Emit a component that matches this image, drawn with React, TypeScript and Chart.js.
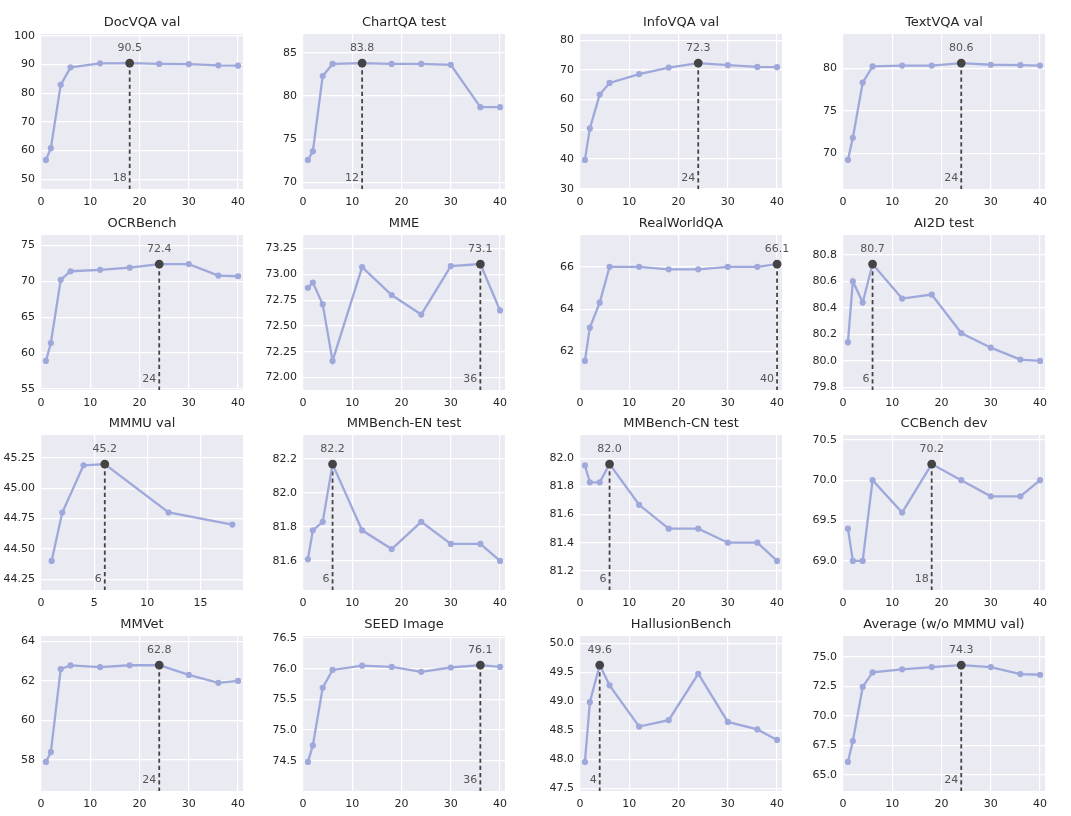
import React, { useEffect, useRef } from "react";
import { Chart, registerables } from "chart.js";

Chart.register(...registerables);

// ---------- data ----------
const xSteps = [1, 2, 4, 6, 12, 18, 24, 30, 36, 40];
const xStepsMMMU = [1, 2, 4, 6, 12, 18];
const xTicksMain = ["0", "10", "20", "30", "40"];
const xTicksMMMU = ["0", "5", "10", "15"];

const titles = [
  "DocVQA val", "ChartQA test", "InfoVQA val", "TextVQA val",
  "OCRBench", "MME", "RealWorldQA", "AI2D test",
  "MMMU val", "MMBench-EN test", "MMBench-CN test", "CCBench dev",
  "MMVet", "SEED Image", "HallusionBench", "Average (w/o MMMU val)",
];

const docvqa = [56.7, 60.8, 82.9, 89.0, 90.4, 90.5, 90.2, 90.1, 89.7, 89.6];
const chartqa = [72.6, 73.6, 82.3, 83.7, 83.8, 83.7, 83.7, 83.6, 78.7, 78.7];
const infovqa = [39.7, 50.3, 61.7, 65.6, 68.6, 70.8, 72.3, 71.6, 71.0, 70.9];
const textvqa = [69.2, 71.8, 78.3, 80.2, 80.3, 80.3, 80.6, 80.4, 80.35, 80.3];
const ocrbench = [58.9, 61.4, 70.2, 71.4, 71.6, 71.9, 72.4, 72.4, 70.8, 70.7];
const mme = [72.87, 72.92, 72.71, 72.16, 73.07, 72.8, 72.61, 73.08, 73.1, 72.65];
const realworldqa = [61.56, 63.13, 64.31, 66.0, 66.0, 65.88, 65.88, 66.0, 66.0, 66.13];
const ai2d = [80.14, 80.6, 80.44, 80.73, 80.47, 80.5, 80.21, 80.1, 80.01, 80.0];
const mmmu = [44.4, 44.8, 45.19, 45.2, 44.8, 44.7];
const mmbenchEN = [81.61, 81.78, 81.83, 82.17, 81.78, 81.67, 81.83, 81.7, 81.7, 81.6];
const mmbenchCN = [81.95, 81.83, 81.83, 81.96, 81.67, 81.5, 81.5, 81.4, 81.4, 81.27];
const ccbench = [69.4, 69.0, 69.0, 70.0, 69.6, 70.2, 70.0, 69.8, 69.8, 70.0];
const mmvet = [57.9, 58.4, 62.6, 62.78, 62.7, 62.79, 62.8, 62.3, 61.9, 62.0];
const seedImage = [74.48, 74.75, 75.69, 75.98, 76.05, 76.03, 75.95, 76.02, 76.06, 76.03];
const hallusion = [47.96, 48.99, 49.63, 49.28, 48.57, 48.68, 49.48, 48.65, 48.52, 48.34];
const average = [66.1, 67.87, 72.44, 73.67, 73.93, 74.12, 74.29, 74.12, 73.53, 73.47];

const docvqaTicks = ["50", "60", "70", "80", "90", "100"];
const chartqaTicks = ["70", "75", "80", "85"];
const infovqaTicks = ["30", "40", "50", "60", "70", "80"];
const textvqaTicks = ["70", "75", "80"];
const ocrbenchTicks = ["55", "60", "65", "70", "75"];
const mmeTicks = ["72.00", "72.25", "72.50", "72.75", "73.00", "73.25"];
const realworldqaTicks = ["62", "64", "66"];
const ai2dTicks = ["79.8", "80.0", "80.2", "80.4", "80.6", "80.8"];
const mmmuTicks = ["44.25", "44.50", "44.75", "45.00", "45.25"];
const mmbenchENTicks = ["81.6", "81.8", "82.0", "82.2"];
const mmbenchCNTicks = ["81.2", "81.4", "81.6", "81.8", "82.0"];
const ccbenchTicks = ["69.0", "69.5", "70.0", "70.5"];
const mmvetTicks = ["58", "60", "62", "64"];
const seedTicks = ["74.5", "75.0", "75.5", "76.0", "76.5"];
const hallusionTicks = ["47.5", "48.0", "48.5", "49.0", "49.5", "50.0"];
const averageTicks = ["65.0", "67.5", "70.0", "72.5", "75.0"];

const seriesList = [
  docvqa, chartqa, infovqa, textvqa,
  ocrbench, mme, realworldqa, ai2d,
  mmmu, mmbenchEN, mmbenchCN, ccbench,
  mmvet, seedImage, hallusion, average,
];
const yTickList = [
  docvqaTicks, chartqaTicks, infovqaTicks, textvqaTicks,
  ocrbenchTicks, mmeTicks, realworldqaTicks, ai2dTicks,
  mmmuTicks, mmbenchENTicks, mmbenchCNTicks, ccbenchTicks,
  mmvetTicks, seedTicks, hallusionTicks, averageTicks,
];

// ---------- styling / layout ----------
const FONT = "'DejaVu Sans', 'Noto Sans', sans-serif";
const TEXT = "#262626";
const ANNO = "#555555";
const LINE = "#9fa8da";
const HIGHLIGHT = "#444444";
const BG = "#eaeaf2";

const COL_LEFT = [41, 303, 580, 843];
const COL_W = 202;
const ROW_TOP = [34, 235, 435, 636];
const ROW_H = 155;
const Y_AXIS_W = 50;
const TITLE_H = 30;
const X_AXIS_H = 24;
const PAD_RIGHT = 12;

const bgPlugin = {
  id: "bgFill",
  beforeDraw(chart: any) {
    const { ctx, chartArea: a } = chart;
    ctx.save();
    ctx.fillStyle = BG;
    ctx.fillRect(a.left, a.top, a.right - a.left, a.bottom - a.top);
    ctx.restore();
  },
};

const highlightPlugin = {
  id: "highlight",
  beforeDatasetsDraw(chart: any, _args: any, opts: any) {
    const pt = chart.getDatasetMeta(0).data[opts.index];
    if (!pt) return;
    const { ctx, chartArea: a } = chart;
    ctx.save();
    ctx.setLineDash([4.2, 3]);
    ctx.strokeStyle = HIGHLIGHT;
    ctx.lineWidth = 1.8;
    ctx.beginPath();
    ctx.moveTo(pt.x, pt.y);
    ctx.lineTo(pt.x, a.bottom);
    ctx.stroke();
    ctx.restore();
  },
  afterDatasetsDraw(chart: any, _args: any, opts: any) {
    const pt = chart.getDatasetMeta(0).data[opts.index];
    if (!pt) return;
    const { ctx, chartArea: a } = chart;
    ctx.save();
    ctx.font = `11px ${FONT}`;
    ctx.fillStyle = ANNO;
    ctx.textBaseline = "middle";
    ctx.textAlign = "center";
    ctx.fillText(opts.valueLabel, pt.x, pt.y - 15);
    ctx.textAlign = "right";
    ctx.fillText(opts.xLabel, pt.x - 3, a.bottom - 10.5);
    ctx.restore();
  },
};

function Panel({ idx }: { idx: number }) {
  const ref = useRef<HTMLCanvasElement | null>(null);
  const row = Math.floor(idx / 4);
  const col = idx % 4;
  const left = COL_LEFT[col] - Y_AXIS_W;
  const top = ROW_TOP[row] - TITLE_H;
  const width = COL_W + Y_AXIS_W + PAD_RIGHT;
  const height = ROW_H + TITLE_H + X_AXIS_H;

  useEffect(() => {
    if (!ref.current) return;
    const ys = seriesList[idx];
    const xs = idx === 8 ? xStepsMMMU : xSteps;
    const xLabels = idx === 8 ? xTicksMMMU : xTicksMain;
    const yLabels = yTickList[idx];

    let best = 0;
    ys.forEach((v, i) => {
      if (v > ys[best]) best = i;
    });
    const ymin = Math.min(...ys);
    const ymax = Math.max(...ys);
    const span = ymax - ymin;

    const tickFont = { family: FONT, size: 11 };
    const chart = new Chart(ref.current, {
      type: "line",
      data: {
        datasets: [
          {
            data: xs.map((x, i) => ({ x, y: ys[i] })),
            borderColor: LINE,
            borderWidth: 2.3,
            tension: 0,
            fill: false,
            pointRadius: ys.map((_, i) => (i === best ? 4.4 : 3.1)),
            pointHoverRadius: ys.map((_, i) => (i === best ? 4.4 : 3.1)),
            pointBackgroundColor: ys.map((_, i) => (i === best ? HIGHLIGHT : LINE)),
            pointBorderWidth: 0,
            clip: false as any,
          },
        ],
      },
      options: {
        animation: false,
        responsive: false,
        devicePixelRatio: 1,
        events: [],
        layout: {
          padding: { left: 0, right: PAD_RIGHT, top: 0, bottom: 0 },
          autoPadding: false,
        },
        plugins: {
          legend: { display: false },
          tooltip: { enabled: false },
          title: {
            display: true,
            text: titles[idx],
            fullSize: false,
            color: TEXT,
            font: { family: FONT, size: 13, weight: "normal", lineHeight: 1.2 },
            padding: { top: 10.7, bottom: 3.7 },
          },
          highlight: {
            index: best,
            valueLabel: ys[best].toFixed(1),
            xLabel: String(xs[best]),
          },
        } as any,
        scales: {
          x: {
            type: "linear",
            min: xs[0] - 1,
            max: xs[xs.length - 1] + 1,
            grid: { color: "#ffffff", lineWidth: 1.2, drawTicks: false },
            border: { display: false },
            ticks: {
              padding: 7,
              autoSkip: false,
              maxRotation: 0,
              color: TEXT,
              font: tickFont,
              callback: (_v: any, i: number) => xLabels[i],
            },
            afterBuildTicks: (s: any) => {
              s.ticks = xLabels.map((l) => ({ value: parseFloat(l) }));
            },
            afterFit: (s: any) => {
              s.height = X_AXIS_H;
              s.paddingLeft = 0;
              s.paddingRight = 0;
            },
          },
          y: {
            type: "linear",
            min: ymin - 0.3 * span,
            max: ymax + 0.3 * span,
            grid: { color: "#ffffff", lineWidth: 1.2, drawTicks: false },
            border: { display: false },
            ticks: {
              padding: 6,
              autoSkip: false,
              color: TEXT,
              font: tickFont,
              callback: (_v: any, i: number) => yLabels[i],
            },
            afterBuildTicks: (s: any) => {
              s.ticks = yLabels.map((l) => ({ value: parseFloat(l) }));
            },
            afterFit: (s: any) => {
              s.width = Y_AXIS_W;
              s.paddingTop = 0;
              s.paddingBottom = 0;
            },
          },
        } as any,
      },
      plugins: [bgPlugin, highlightPlugin],
    } as any);
    return () => chart.destroy();
  }, [idx]);

  return (
    <canvas
      ref={ref}
      width={width}
      height={height}
      style={{ position: "absolute", left, top, width, height }}
    />
  );
}

export default function App() {
  return (
    <div
      style={{
        position: "absolute",
        left: 0,
        top: 0,
        width: 1071,
        height: 816,
        background: "#ffffff",
        overflow: "hidden",
      }}
    >
      {titles.map((_, i) => (
        <Panel key={i} idx={i} />
      ))}
    </div>
  );
}
